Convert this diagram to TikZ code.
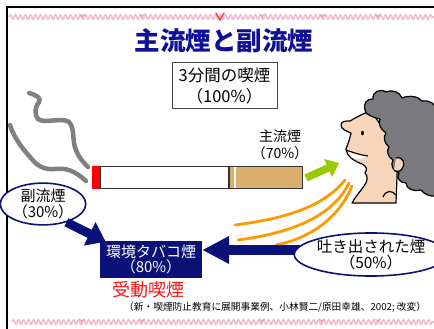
\documentclass[tikz,border=0pt]{standalone}
\usepackage{fontspec}
\newfontfamily\jp{Noto Sans CJK JP}
\usetikzlibrary{arrows.meta,decorations.pathmorphing,shapes.geometric}

\definecolor{navy}{RGB}{10,18,120}
\definecolor{titleblue}{RGB}{16,16,150}
\definecolor{boxgray}{RGB}{70,70,70}
\definecolor{tipred}{RGB}{255,0,0}
\definecolor{filtertan}{RGB}{219,174,108}
\definecolor{smokegray}{RGB}{128,128,128}
\definecolor{leafgreen}{RGB}{153,204,0}
\definecolor{exhale}{RGB}{255,153,0}
\definecolor{skin}{RGB}{247,214,188}
\definecolor{hair}{RGB}{122,122,126}
\definecolor{vine}{RGB}{240,186,210}
\definecolor{passive}{RGB}{255,20,20}

\tikzset{
  txt/.style={inner sep=0pt, align=center, text=black},
  sz/.style 2 args={font=\jp\fontsize{#1}{#2}\selectfont},
  bubble/.style={ellipse, draw=navy, line width=1.6pt, fill=white, inner sep=0pt, align=center},
  navyarrow/.style={draw=navy, line width=#1},
  smoke/.style={draw=smokegray, line width=4.5pt, line cap=round, line join=round},
  exhaled/.style={draw=exhale, line width=2.8pt, line cap=round},
  vineline/.style={draw=vine, line width=1.6pt, decorate,
    decoration={snake, segment length=5pt, amplitude=2.2pt}},
  sprig/.style={draw=vine!85!red, line width=0.9pt, line cap=round},
  outline/.style={draw=black, line width=1.2pt, line join=round},
}

\begin{document}
\begin{tikzpicture}[x=1pt,y=-1pt]
\useasboundingbox (0,0) rectangle (434,329);
\fill[white] (0,0) rectangle (434,329);

% slide frame
\coordinate (frameTL) at (7,7);
\coordinate (frameTR) at (434,7);
\coordinate (frameBL) at (7,329);
\draw[black, line width=2.4pt] (frameBL) -- (frameTL) -- (frameTR);

% ornamental vines, top and bottom
\coordinate (vtl) at (9,17);  \coordinate (vtr) at (434,17);
\coordinate (vbl) at (12,322); \coordinate (vbr) at (434,322);
\draw[vineline] (vtl) -- (vtr);
\draw[vineline] (vbl) -- (vbr);
\foreach \x in {82,142,262,322,378}{
  \draw[sprig] (\x,19) -- (\x,15) (\x-2.5,14) -- (\x,17) -- (\x+2.5,14);
  \draw[sprig] (\x,324) -- (\x,320) (\x-2.5,319) -- (\x,322) -- (\x+2.5,319);
}
\draw[draw=red!60!vine, line width=1.6pt, line cap=round] (216,13) -- (220,20) -- (224,13);

% title
\node[inner sep=0pt, text=titleblue, font=\jp\bfseries\fontsize{25.5}{28}\selectfont]
  (title) at (224,41) {主流煙と副流煙};

% three-minute total
\node[draw=boxgray, line width=1pt, minimum width=105pt, minimum height=45pt,
  txt, sz={16.5}{21}] (total) at (224.5,85.5) {3分間の喫煙\\（100\%）};

% smoke from the burning tip
\draw[smoke] (29,93) .. controls (36,95) and (42,98) .. (39,102)
  .. controls (35,107) and (34,114) .. (38,119)
  .. controls (44,124) and (62,117) .. (69,122)
  .. controls (75,128) and (72,142) .. (76,150)
  .. controls (79,158) and (84,163) .. (88,167);
\draw[smoke] (10,125) .. controls (13,135) and (20,146) .. (30,157)
  .. controls (37,166) and (44,170) .. (55,169)
  .. controls (66,168) and (74,170) .. (86,181);

% cigarette
\node[draw=black!80, line width=0.8pt, fill=white, minimum width=128pt,
  minimum height=22pt, inner sep=0pt, anchor=north west] (paper) at (100,166) {};
\node[fill=tipred, minimum width=8pt, minimum height=23pt, inner sep=0pt,
  anchor=north east] (ember) at (paper.north west) {};
\node[draw=black!80, line width=0.8pt, fill=filtertan, minimum width=73pt,
  minimum height=22pt, inner sep=0pt, anchor=north west] (filter) at (paper.north east) {};
\fill[white] ([xshift=5pt]filter.north west) rectangle ([xshift=7pt]filter.south west);
\draw[black!80, line width=0.8pt] (paper.north west) -- (filter.north east)
  (paper.south west) -- (filter.south east);

% mainstream label
\node[txt, sz={14}{17}] (mainlbl) at (280,145) {主流煙\\（70\%）};

% smoker
\coordinate (neck) at (352,203);
\path[fill=skin, outline] (371,111)
  .. controls (362,114) and (355,118) .. (350,121)
  .. controls (346,121) and (341,121) .. (341,125)
  .. controls (341,129) and (346,131) .. (351,133)
  .. controls (350,138) and (348,144) .. (346,149)
  .. controls (347,153) and (348,156) .. (351,158)
  .. controls (355,161) and (359,163) .. (362,164)
  .. controls (366,166) and (368,169) .. (365,173)
  .. controls (368,176) and (368,181) .. (364,186)
  .. controls (360,192) and (355,197) .. (neck)
  -- (396,203) -- (398,150) -- cycle;
\fill[white] (347,150) .. controls (354,153) and (361,155) .. (367,156)
  .. controls (364,159) and (358,160) .. (352,158) -- cycle;
\draw[outline] (346,150) .. controls (354,153) and (361,155) .. (368,156);
\fill[black] (362.5,133) ellipse (1.4pt and 2.4pt);
\path[fill=hair, outline] (366,113)
  .. controls (362,104) and (367,98) .. (373,99)
  .. controls (372,92) and (380,88) .. (386,92)
  .. controls (392,89) and (400,92) .. (402,98)
  .. controls (409,95) and (418,96) .. (422,101)
  .. controls (430,100) and (436,104) .. (436,110)
  -- (436,196)
  .. controls (430,197) and (424,194) .. (421,190)
  .. controls (414,192) and (406,189) .. (406,183)
  .. controls (400,183) and (396,178) .. (399,173)
  .. controls (393,171) and (390,165) .. (393,160)
  .. controls (388,157) and (386,151) .. (389,147)
  .. controls (384,143) and (383,137) .. (386,133)
  .. controls (380,129) and (378,123) .. (380,119)
  .. controls (375,118) and (370,116) .. (366,113) -- cycle;
\path[fill=skin, outline] (396,158) .. controls (403,156) and (406,164) .. (402,169)
  .. controls (400,172) and (396,172) .. (394,170);
\draw[outline] (383,197) .. controls (386,190) and (392,190) .. (396,195);

% mainstream smoke inhaled
\coordinate (filtertip) at (306,178);
\coordinate (mouthin) at (339,163);
\draw[draw=leafgreen, line width=7.5pt,
  -{Triangle[length=12pt,width=19pt]}] (filtertip) -- (mouthin);

% exhaled smoke
\coordinate (exA) at (345,180); \coordinate (exB) at (349,183); \coordinate (exC) at (352,186);
\coordinate (endA) at (235,225); \coordinate (endB) at (238,240); \coordinate (endC) at (276,245);
\draw[exhaled] (exA) .. controls (325,205) and (290,218) .. (endA);
\draw[exhaled] (exB) .. controls (335,212) and (300,232) .. (endB);
\draw[exhaled] (exC) .. controls (340,216) and (312,238) .. (endC);

% sidestream bubble
\node[bubble, minimum width=67pt, minimum height=39pt, sz={15}{15.5}]
  (side) at (43,204) {副流煙\\（30\%）};

% environmental tobacco smoke
\node[fill=navy, minimum width=102pt, minimum height=37pt, inner sep=0pt,
  align=center, text=white, sz={15}{15}] (env) at (151,259.5) {環境タバコ煙\\（80\%）};

% exhaled bubble
\coordinate (exhtail) at (330,250);
\draw[navyarrow=10pt, -{Triangle[length=27pt,width=26pt]}]
  (exhtail) -- (env.east |- exhtail);
\node[bubble, minimum width=126pt, minimum height=43pt, sz={15.5}{16}]
  (exh) at (371,254.5) {吐き出された煙\\（50\%）};

\draw[navyarrow=9pt, -{Triangle[length=18pt,width=25pt]}]
  (side.-38) -- ([xshift=6pt,yshift=-1pt]env.north west);

% passive smoking
\node[inner sep=0pt, text=passive, sz={18}{20}] (passivelbl) at (148,289.5) {受動喫煙};

% source
\node[inner sep=0pt, anchor=west, text=black, sz={9.7}{12}] (source) at (124,307.5)
  {（新・喫煙防止教育に展開事業例、小林賢二/原田幸雄、2002; 改変）};
\end{tikzpicture}
\end{document}
